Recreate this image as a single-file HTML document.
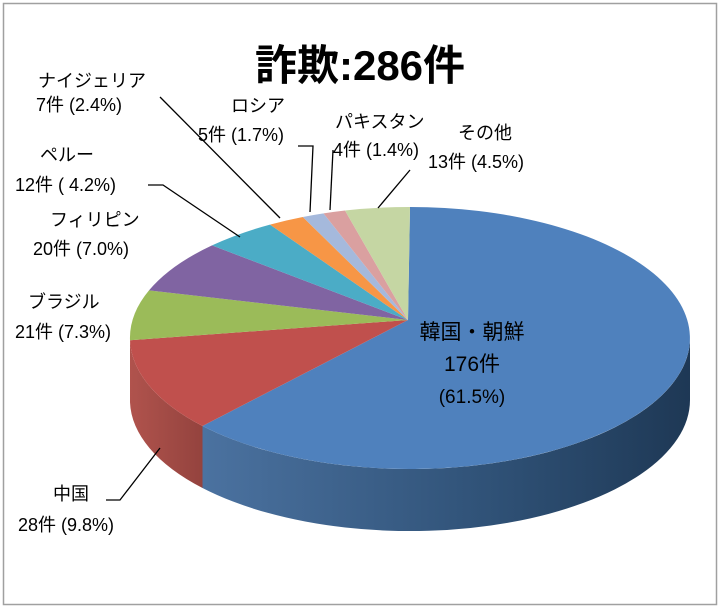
<!DOCTYPE html>
<html><head><meta charset="utf-8"><style>
body{margin:0;background:#fff;}
svg{display:block;font-family:"Liberation Sans","Noto Sans CJK JP",sans-serif;}
</style></head><body>
<svg width="722" height="612" viewBox="0 0 722 612">
<defs>
<linearGradient id="bs" x1="0" x2="1" y1="0" y2="0">
<stop offset="0" stop-color="#4b72a0"/><stop offset="0.6" stop-color="#2f5176"/><stop offset="1" stop-color="#1e3855"/>
</linearGradient>
<linearGradient id="rs" x1="0" x2="1"><stop offset="0" stop-color="#b0534d"/><stop offset="1" stop-color="#94433e"/></linearGradient>
</defs>
<rect x="3.5" y="3.5" width="713" height="601" fill="#fff" stroke="#a0a0a0" stroke-width="1.5"/>
<text x="360" y="80" font-size="42" font-weight="bold" text-anchor="middle" fill="#000">詐欺:286件</text>
<path d="M690,338 A280,131 0 0 1 202.5,426 L202.5,488 A280,131 0 0 0 690,400 Z" fill="url(#bs)"/>
<path d="M202.5,426 A280,131 0 0 1 130,340.3 L130,402.3 A280,131 0 0 0 202.5,488 Z" fill="url(#rs)"/>
<g>
<path d="M408,320 L410,207 A280,131 0 1 1 202.5,426 Z" fill="#4f81bd"/>
<path d="M408,320 L202.5,426 A280,131 0 0 1 130,340.3 Z" fill="#c0504d"/>
<path d="M408,320 L130,340.3 A280,131 0 0 1 149,290.4 Z" fill="#9bbb59"/>
<path d="M408,320 L149,290.4 A280,131 0 0 1 212,245.4 Z" fill="#8064a2"/>
<path d="M408,320 L212,245.4 A280,131 0 0 1 270,224.6 Z" fill="#4bacc6"/>
<path d="M408,320 L270,224.6 A280,131 0 0 1 302.8,217 Z" fill="#f79646"/>
<path d="M408,320 L302.8,217 A280,131 0 0 1 323.5,213.4 Z" fill="#a5b9dc"/>
<path d="M408,320 L323.5,213.4 A280,131 0 0 1 345,210.5 Z" fill="#daa0a0"/>
<path d="M408,320 L345,210.5 A280,131 0 0 1 410,207 Z" fill="#c5d6a3"/>
</g>
<g stroke="#000" stroke-width="1.3" fill="none">
<path d="M160,97 L280,218"/>
<path d="M298,146 L313,146 L310,212"/>
<path d="M333,150 L330,210"/>
<path d="M410,170 L378,208"/>
<path d="M148,185 L163,185 L240,237"/>
<path d="M106,500 L120,500 L160,448"/>
</g>
<g font-size="18" fill="#000">
<text x="38" y="87">ナイジェリア</text>
<text x="36" y="111">7件 (2.4%)</text>
<text x="231" y="112">ロシア</text>
<text x="198" y="141">5件 (1.7%)</text>
<text x="335" y="128">パキスタン</text>
<text x="333" y="156">4件 (1.4%)</text>
<text x="458" y="139">その他</text>
<text x="428" y="168">13件 (4.5%)</text>
<text x="40" y="161">ペルー</text>
<text x="15" y="191">12件 ( 4.2%)</text>
<text x="50" y="226">フィリピン</text>
<text x="33" y="255">20件 (7.0%)</text>
<text x="28" y="308">ブラジル</text>
<text x="15" y="338">21件 (7.3%)</text>
<text x="53" y="500">中国</text>
<text x="18" y="531">28件 (9.8%)</text>
</g>
<g text-anchor="middle" fill="#000">
<text x="472" y="339" font-size="21">韓国・朝鮮</text>
<text x="472" y="371" font-size="21">176件</text>
<text x="472" y="403" font-size="19">(61.5%)</text>
</g>
</svg>
</body></html>
